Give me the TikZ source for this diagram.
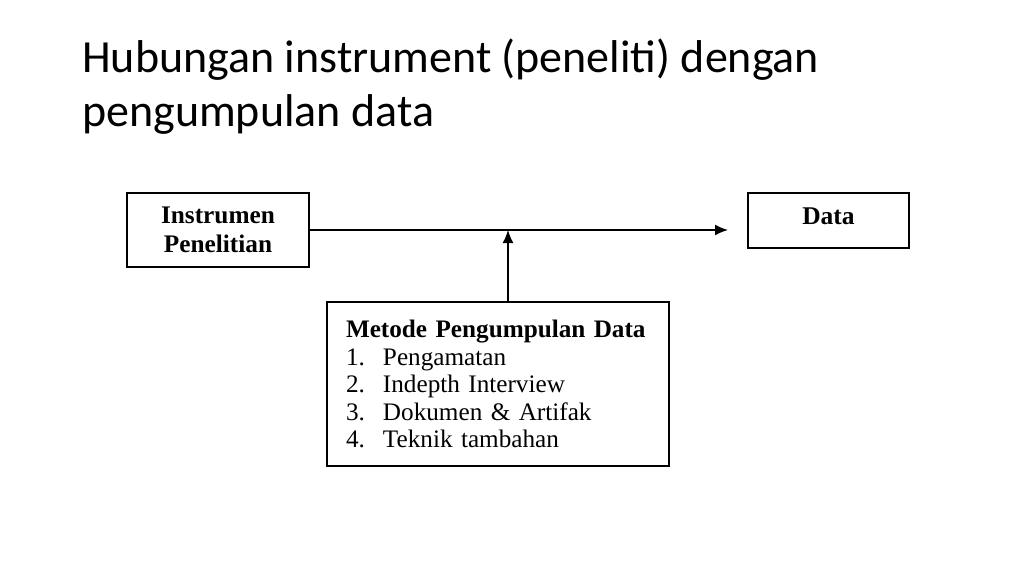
\documentclass[tikz,border=0pt]{standalone}
\usepackage{fontspec}
\setmainfont{Liberation Serif}
\newfontfamily\slidefont{Carlito}
\usetikzlibrary{arrows.meta}

\begin{document}
\begin{tikzpicture}[x=1pt, y=-1pt,
        slidetitle/.style={anchor=base west, inner sep=0pt, font=\slidefont\fontsize{46}{54}\selectfont},
        box/.style={draw, line width=1.6pt, inner sep=0pt, align=center},
        link/.style={line width=1.5pt, -{Latex[length=13pt,width=11pt]}}]
        \useasboundingbox (0,0) rectangle (1024,576);
        \node[slidetitle] (judul) at (82,72) {Hubungan instrument (peneliti) dengan};
        \node[slidetitle] (judulbawah) at (82,126) {pengumpulan data};
        \node[box, minimum width=182pt, minimum height=74pt, font=\bfseries\fontsize{25.3}{29}\selectfont] (instrumen) at (218,230) {Instrumen\\Penelitian};
        \node[box, minimum width=161pt, minimum height=55pt, text depth=9pt, font=\bfseries\fontsize{25.5}{29}\selectfont] (data) at (828.5,220.5) {Data};
        \node[box, align=left, text width=304pt, inner xsep=19pt, minimum height=164pt, font=\fontsize{25.2}{27.5}\selectfont] (metode) at (498,384)
            {\textbf{Metode Pengumpulan Data}\\
             \makebox[37pt][l]{1.}Pengamatan\\
             \makebox[37pt][l]{2.}Indepth Interview\\
             \makebox[37pt][l]{3.}Dokumen \& Artifak\\
             \makebox[37pt][l]{4.}Teknik tambahan\par\vspace{6pt}};
        \coordinate (ujung) at (728,230);
        \coordinate (temu) at (508,230);
        \draw[link] (instrumen.east) -- (ujung);
        \draw[link] (metode.north -| temu) -- (temu);
\end{tikzpicture}
\end{document}
